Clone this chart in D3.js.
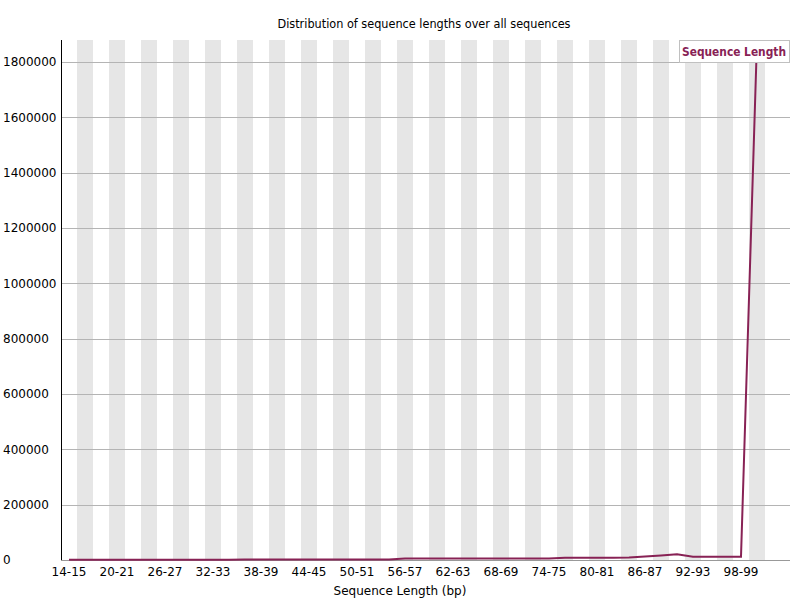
<!DOCTYPE html>
<html>
<head>
<meta charset="utf-8">
<script src="https://cdn.jsdelivr.net/npm/d3@7"></script>
<style>
  body { margin: 0; background: #fff; }
  svg { display: block; }
  text { font-family: "Lucida Grande", "DejaVu Sans", sans-serif; }
</style>
</head>
<body>
<div id="chart"></div>
<script>
// categories (bp ranges) and the read counts in each
var categories = ["14-15","16-17","18-19","20-21","22-23","24-25","26-27","28-29","30-31","32-33",
    "34-35","36-37","38-39","40-41","42-43","44-45","46-47","48-49","50-51","52-53",
    "54-55","56-57","58-59","60-61","62-63","64-65","66-67","68-69","70-71","72-73",
    "74-75","76-77","78-79","80-81","82-83","84-85","86-87","88-89","90-91","92-93",
    "94-95","96-97","98-99","100-101"];
var counts = [900, 1000, 1000, 1100, 1100, 1200, 1200, 1200, 1300, 1300,
    1300, 1400, 1400, 1400, 1500, 1500, 1500, 1600, 1600, 1700,
    1800, 5200, 5300, 5400, 5400, 5500, 5500, 5600, 5700, 5700,
    5800, 8200, 8300, 8400, 8500, 8600, 12500, 16500, 20500, 12000,
    12000, 12000, 12000, 1879500];
var yTicks = [0, 200000, 400000, 600000, 800000, 1000000, 1200000, 1400000, 1600000, 1800000];
var seriesName = "Sequence Length";

var width = 800, height = 600;
var plotLeft = 61, plotRight = 790, plotTop = 40, plotBottom = 560;
var step = 16;

var svg = d3.select("#chart").append("svg")
    .attr("width", width)
    .attr("height", height);

var x = d3.scaleBand()
    .domain(categories)
    .range([plotLeft, plotLeft + step * categories.length]);

var y = d3.scaleLinear()
    .domain([0, d3.max(counts)])
    .range([plotBottom, plotTop]);

// alternating grey stripes
svg.append("g").selectAll("rect")
    .data(categories.filter(function (d, i) { return i % 2 == 1; }))
    .enter().append("rect")
    .attr("x", function (d) { return x(d); })
    .attr("y", plotTop)
    .attr("width", x.bandwidth())
    .attr("height", plotBottom - plotTop)
    .attr("fill", "#e6e6e6");

// horizontal grid lines
svg.append("g").selectAll("line")
    .data(yTicks.filter(function (d) { return d > 0; }))
    .enter().append("line")
    .attr("x1", plotLeft).attr("x2", plotRight)
    .attr("y1", function (d) { return Math.round(y(d)) + 0.5; })
    .attr("y2", function (d) { return Math.round(y(d)) + 0.5; })
    .attr("stroke", "#b4b4b4");

// y tick labels (left aligned, like the original)
svg.append("g").selectAll("text")
    .data(yTicks)
    .enter().append("text")
    .attr("x", 3)
    .attr("y", function (d) { return y(d); })
    .attr("dy", "0.36em")
    .attr("text-anchor", "start")
    .attr("font-size", 12)
    .attr("fill", "#000")
    .text(function (d) { return d; });

// x tick labels, every third category
svg.append("g").selectAll("text")
    .data(categories.filter(function (d, i) { return i % 3 == 0; }))
    .enter().append("text")
    .attr("x", function (d) { return x(d) + x.bandwidth() / 2; })
    .attr("y", 576)
    .attr("text-anchor", "middle")
    .attr("font-size", 12)
    .attr("fill", "#000")
    .text(function (d) { return d; });

// axes
svg.append("line")
    .attr("x1", plotLeft + 0.5).attr("x2", plotLeft + 0.5)
    .attr("y1", plotTop).attr("y2", plotBottom)
    .attr("stroke", "#000");
svg.append("line")
    .attr("x1", plotLeft).attr("x2", plotRight)
    .attr("y1", plotBottom + 0.5).attr("y2", plotBottom + 0.5)
    .attr("stroke", "#999");

// the data line
var line = d3.line()
    .x(function (d, i) { return x(categories[i]) + x.bandwidth() / 2; })
    .y(function (d) { return y(d); });

svg.append("path")
    .datum(counts)
    .attr("d", line)
    .attr("fill", "none")
    .attr("stroke", "#882255")
    .attr("stroke-width", 2);

// title and axis label
svg.append("text")
    .attr("x", 424)
    .attr("y", 28)
    .attr("text-anchor", "middle")
    .attr("font-size", 12)
    .attr("textLength", 293)
    .attr("lengthAdjust", "spacingAndGlyphs")
    .text("Distribution of sequence lengths over all sequences");

svg.append("text")
    .attr("x", 400)
    .attr("y", 595)
    .attr("text-anchor", "middle")
    .attr("font-size", 12)
    .text("Sequence Length (bp)");

// legend
var legend = svg.append("g");
legend.append("rect")
    .attr("x", 679.5).attr("y", 40.5)
    .attr("width", 110).attr("height", 22)
    .attr("fill", "#fff")
    .attr("stroke", "#c0c0c0");
legend.append("text")
    .attr("x", 682)
    .attr("y", 56)
    .attr("font-size", 12)
    .attr("font-weight", "bold")
    .attr("fill", "#882255")
    .attr("textLength", 104)
    .attr("lengthAdjust", "spacingAndGlyphs")
    .text(seriesName);
</script>
</body>
</html>
